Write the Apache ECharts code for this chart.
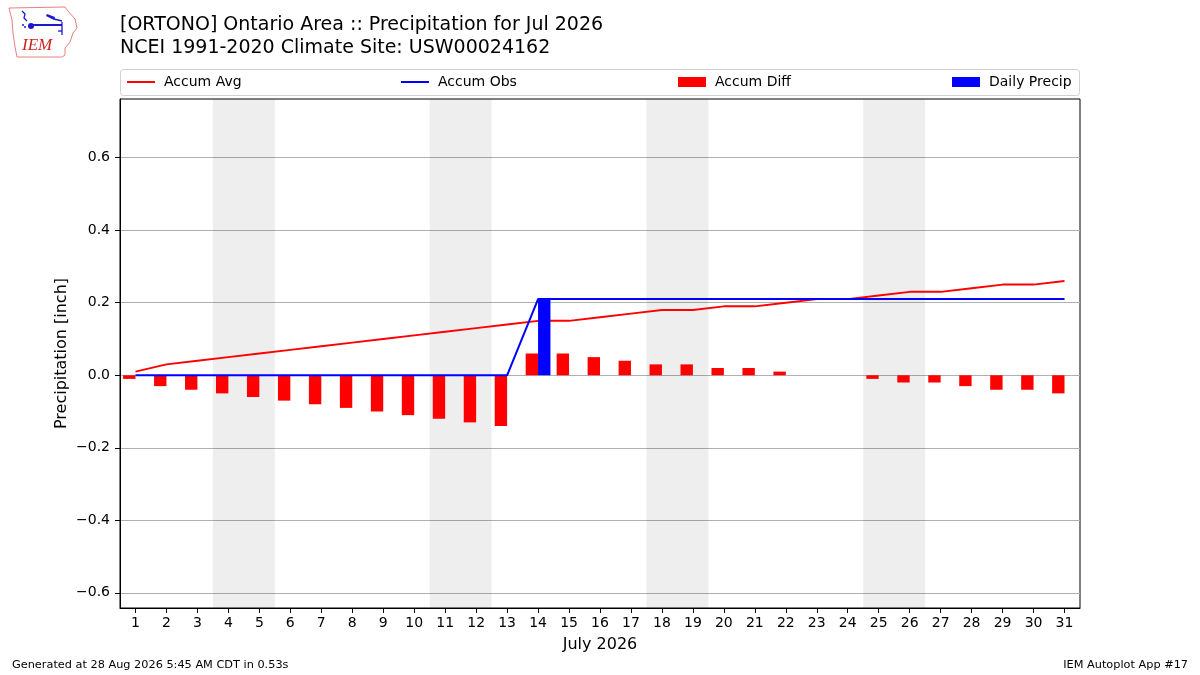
<!DOCTYPE html>
<html>
<head>
<meta charset="utf-8">
<script src="https://cdn.jsdelivr.net/npm/echarts@6/dist/echarts.min.js"></script>
<style>html,body{margin:0;padding:0;background:#fff;}#chart{width:1200px;height:675px;}</style>
</head>
<body>
<div id="chart"></div>
<script>
// ---- data ----
var days = [1,2,3,4,5,6,7,8,9,10,11,12,13,14,15,16,17,18,19,20,21,22,23,24,25,26,27,28,29,30,31];
var accumAvg = [0.01,0.03,0.04,0.05,0.06,0.07,0.08,0.09,0.10,0.11,0.12,0.13,0.14,0.15,0.15,0.16,0.17,0.18,0.18,0.19,0.19,0.20,0.21,0.21,0.22,0.23,0.23,0.24,0.25,0.25,0.26];
var accumObs = [0,0,0,0,0,0,0,0,0,0,0,0,0,0.21,0.21,0.21,0.21,0.21,0.21,0.21,0.21,0.21,0.21,0.21,0.21,0.21,0.21,0.21,0.21,0.21,0.21];
var accumDiff = [-0.01,-0.03,-0.04,-0.05,-0.06,-0.07,-0.08,-0.09,-0.10,-0.11,-0.12,-0.13,-0.14,0.06,0.06,0.05,0.04,0.03,0.03,0.02,0.02,0.01,0,0,-0.01,-0.02,-0.02,-0.03,-0.04,-0.04,-0.05];
var dailyPrecip = [0,0,0,0,0,0,0,0,0,0,0,0,0,0.21,0,0,0,0,0,0,0,0,0,0,0,0,0,0,0,0,0];
var weekends = [[3.5,5.5],[10.5,12.5],[17.5,19.5],[24.5,26.5]];
var yTicks = [-0.6,-0.4,-0.2,0,0.2,0.4,0.6];
var xTicks = days;
var titleLine1 = '[ORTONO] Ontario Area :: Precipitation for Jul 2026';
var titleLine2 = 'NCEI 1991-2020 Climate Site: USW00024162';
var footLeft = 'Generated at 28 Aug 2026 5:45 AM CDT in 0.53s';
var footRight = 'IEM Autoplot App #17';

var FONT = 'DejaVu Sans';
function pairs(arr){ return days.map(function(d,i){ return [d, arr[i]]; }); }

function barRender(offsetStart, offsetEnd, color){
  return function(params, api){
    var d = api.value(0), v = api.value(1);
    if (!v) return null;
    var p1 = api.coord([d + offsetStart, v]);
    var p0 = api.coord([d + offsetEnd, 0]);
    var x = Math.min(p0[0], p1[0]), y = Math.min(p0[1], p1[1]);
    return {type:'rect', shape:{x:x, y:y, width:Math.abs(p0[0]-p1[0]), height:Math.abs(p0[1]-p1[1])}, style:{fill:color}};
  };
}

var chart = echarts.init(document.getElementById('chart'));
function legendAt(left, name, isLine){
  return {orient:'horizontal', left:left, top:75, itemWidth:28, itemHeight:isLine ? 2 : 10, padding:0,
    icon:'rect', data:[name],
    textStyle:{fontFamily:FONT, fontSize:14, color:'#000', padding:[0,0,0,4]}};
}
var option = {
  animation:false,
  backgroundColor:'#fff',
  textStyle:{fontFamily:FONT},
  grid:{left:120, right:120, top:99, bottom:67, show:true, borderColor:'#000', borderWidth:1, backgroundColor:'transparent'},
  legend:[
    legendAt(127, 'Accum Avg', true),
    legendAt(401, 'Accum Obs', true),
    legendAt(678, 'Accum Diff', false),
    legendAt(952, 'Daily Precip', false)
  ],
  xAxis:{type:'value', min:0.5, max:31.5, name:'July 2026', nameLocation:'middle', nameGap:29, nameMoveOverlap:false,
    nameTextStyle:{fontFamily:FONT, fontSize:16, color:'#000'},
    axisLine:{show:true, onZero:false, lineStyle:{color:'#000', width:1}},
    axisTick:{show:true, length:5, inside:false, customValues:xTicks, lineStyle:{color:'#000'}},
    axisLabel:{customValues:xTicks, fontFamily:FONT, fontSize:14, color:'#000', margin:8},
    splitLine:{show:false}},
  yAxis:{type:'value', min:-0.642, max:0.762, name:'Precipitation [inch]', nameLocation:'middle', nameGap:50, nameMoveOverlap:false,
    nameTextStyle:{fontFamily:FONT, fontSize:16, color:'#000'},
    axisLine:{show:true, lineStyle:{color:'#000', width:1}},
    axisTick:{show:true, length:5, customValues:yTicks, lineStyle:{color:'#000'}},
    axisLabel:{customValues:yTicks, fontFamily:FONT, fontSize:14, color:'#000', margin:10,
      formatter:function(v){ return (v < -1e-9 ? '\u2212' : '') + Math.abs(v).toFixed(1); }},
    splitLine:{show:true, lineStyle:{color:'#b0b0b0', width:1}}},
  graphic:[
    {type:'rect', shape:{x:120.5, y:69.5, width:959, height:26, r:3}, style:{fill:'none', stroke:'#d0d0d0', lineWidth:1}, z:0},
    {type:'text', left:120, top:16, style:{text:titleLine1, fontFamily:FONT, fontSize:19, fill:'#000'}},
    {type:'text', left:120, top:39, style:{text:titleLine2, fontFamily:FONT, fontSize:19, fill:'#000'}},
    {type:'text', left:12, top:660, style:{text:footLeft, fontFamily:FONT, fontSize:11.3, fill:'#000'}},
    {type:'text', right:12, top:660, style:{text:footRight, fontFamily:FONT, fontSize:11.3, fill:'#000'}},
    {type:'polygon', shape:{points:[[9,8],[65,7],[68,11],[75,19],[77,28],[73,33],[70,42],[65,48],[65,55],[62,57],[17,57],[15,47],[13,33],[12,20]]},
      style:{fill:'none', stroke:'#e88080', lineWidth:1}},
    {type:'line', shape:{x1:30, y1:25, x2:62, y2:25}, style:{stroke:'#1a1acc', lineWidth:2}},
    {type:'circle', shape:{cx:31, cy:26, r:3}, style:{fill:'#1a1acc'}},
    {type:'polyline', shape:{points:[[22,11],[25,14],[24,18],[27,21]]}, style:{stroke:'#1a1acc', lineWidth:1.3, fill:'none'}},
    {type:'circle', shape:{cx:23, cy:25, r:1}, style:{fill:'#1a1acc'}},
    {type:'circle', shape:{cx:25, cy:27, r:1}, style:{fill:'#1a1acc'}},
    {type:'polygon', shape:{points:[[47,14],[55,17],[54,20],[46,16]]}, style:{fill:'#1a1acc'}},
    {type:'line', shape:{x1:54, y1:19, x2:62, y2:21}, style:{stroke:'#1a1acc', lineWidth:1.3}},
    {type:'line', shape:{x1:62, y1:22, x2:62, y2:35}, style:{stroke:'#1a1acc', lineWidth:1.3}},
    {type:'line', shape:{x1:58, y1:31, x2:62, y2:31}, style:{stroke:'#1a1acc', lineWidth:1.3}},
    {type:'text', x:22, y:37, style:{text:'IEM', fontFamily:'Liberation Serif', fontStyle:'italic', fontSize:17, fill:'#d02020'}}
  ],
  series:[
    {name:'Accum Diff', type:'custom', z:2, itemStyle:{color:'#ff0000'}, renderItem:barRender(-0.4, 0, '#ff0000'),
      encode:{x:0, y:1}, data:pairs(accumDiff),
      markArea:{silent:true, itemStyle:{color:'rgba(0,0,0,0.067)'},
        data:weekends.map(function(w){ return [{xAxis:w[0]},{xAxis:w[1]}]; })}},
    {name:'Accum Avg', type:'line', z:3, symbol:'none', data:pairs(accumAvg), lineStyle:{color:'#ff0000', width:2}, itemStyle:{color:'#ff0000'}},
    {name:'Accum Obs', type:'line', z:3, symbol:'none', data:pairs(accumObs), lineStyle:{color:'#0000ff', width:2}, itemStyle:{color:'#0000ff'}},
    {name:'Daily Precip', type:'custom', z:4, itemStyle:{color:'#0000ff'}, renderItem:barRender(0.4, 0, '#0000ff'),
      encode:{x:0, y:1}, data:pairs(dailyPrecip)}
  ]
};
chart.setOption(option);
</script>
</body>
</html>
